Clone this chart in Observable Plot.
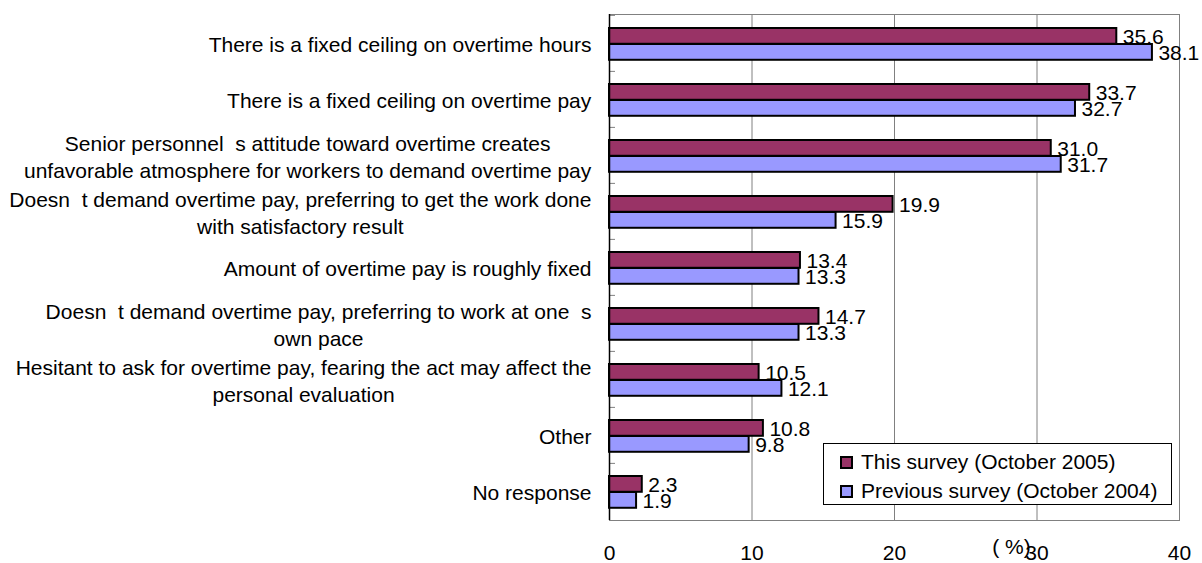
<!DOCTYPE html>
<html><head><meta charset="utf-8">
<script src="https://cdn.jsdelivr.net/npm/d3@7"></script>
<script src="https://cdn.jsdelivr.net/npm/@observablehq/plot@0.6"></script>
<style>
body{margin:0;background:#fff;font-family:"Liberation Sans",Arial,sans-serif;}
#wrap{position:relative;width:1202px;height:563px;overflow:hidden;}
#legend{position:absolute;left:823px;top:443px;width:349px;height:62px;box-sizing:border-box;border:1px solid #000;background:#fff;font-size:21px;color:#000;}
.item{position:absolute;left:16px;height:24px;line-height:24px;display:flex;align-items:center;white-space:nowrap;}
.sw{width:13px;height:13px;box-sizing:border-box;border:2px solid #000;margin-right:8px;}
</style></head><body><div id="wrap"></div>
<script>
const categories = [
  "There is a fixed ceiling on overtime hours",
  "There is a fixed ceiling on overtime pay",
  "Senior personnel  s attitude toward overtime creates\nunfavorable atmosphere for workers to demand overtime pay",
  "Doesn  t demand overtime pay, preferring to get the work done\nwith satisfactory result",
  "Amount of overtime pay is roughly fixed",
  "Doesn  t demand overtime pay, preferring to work at one  s\nown pace",
  "Hesitant to ask for overtime pay, fearing the act may affect the\npersonal evaluation",
  "Other",
  "No response"
];
const thisSurvey = [35.6, 33.7, 31.0, 19.9, 13.4, 14.7, 10.5, 10.8, 2.3];
const prevSurvey = [38.1, 32.7, 31.7, 15.9, 13.3, 13.3, 12.1, 9.8, 1.9];
const seriesNames = ["This survey (October 2005)", "Previous survey (October 2004)"];
const seriesColors = ["#993366", "#9999FF"];
const xTicks = [0, 10, 20, 30, 40];
const unitLabel = "( %)";

const W = 1202, H = 563, mT = 14, mB = 43, mL = 609, mR = 23;
const step = (H - mT - mB) / categories.length;
const barH = 16, topPad = 13;
const series = [thisSurvey, prevSurvey];
const rows = categories.flatMap((c, i) => series.map((vals, s) => ({cat: c, series: s, value: vals[i]})));

const barMarks = [0, 1].map(s => Plot.barX(rows.filter(r => r.series === s), {
  x: "value", y: "cat", fill: seriesColors[s], stroke: "#000", strokeWidth: 2,
  insetTop: topPad + s * barH, insetBottom: step - topPad - (s + 1) * barH
}));
const valueMarks = [0, 1].map(s => Plot.text(rows.filter(r => r.series === s), {
  x: "value", y: "cat", text: d => d.value.toFixed(1), textAnchor: "start",
  dx: 6, dy: topPad + s * barH + barH / 2 - step / 2 + 1, fill: "#000"
}));

const plot = Plot.plot({
  width: W, height: H, marginTop: mT, marginBottom: mB, marginLeft: mL, marginRight: mR,
  style: {fontFamily: "'Liberation Sans', Arial, sans-serif", fontSize: "21px", background: "#fff", color: "#000", overflow: "visible"},
  x: {domain: [0, 40], ticks: xTicks, tickSize: 0, tickPadding: 25, tickFormat: d => String(d), label: null},
  y: {domain: categories, padding: 0, axis: null},
  marks: [
    Plot.ruleX(xTicks.slice(1, -1), {stroke: "#808080", strokeWidth: 1}),
    Plot.frame({stroke: "#808080"}),
    Plot.ruleY(categories, {y: d => d, x1: 0, x2: 0, insetRight: -6, dy: -step / 2, stroke: "#808080"}),
    ...barMarks,
    Plot.ruleX([0], {stroke: "#000", strokeWidth: 1.5}),
    ...valueMarks,
    Plot.text(categories, {y: d => d, frameAnchor: "left", textAnchor: "end", dx: -18, text: d => d, lineHeight: 1.28, fill: "#000"}),
    Plot.text([unitLabel], {frameAnchor: "bottom-right", dx: -168, dy: 33, text: d => d, textAnchor: "middle", fill: "#000"})
  ]
});
const wrap = document.getElementById("wrap");
wrap.appendChild(plot);

// center-align multi-line category labels (right edge kept), keep double spaces
const labelSet = new Set(categories.map(c => c.replace(/\n/g, "")));
plot.querySelectorAll("text").forEach(t => {
  if (!labelSet.has(t.textContent)) return;
  t.style.whiteSpace = "pre";
  t.setAttribute("xml:space", "preserve");
  const w = t.getBBox().width;
  t.setAttribute("text-anchor", "middle");
  t.querySelectorAll("tspan").forEach(ts => ts.setAttribute("text-anchor", "middle"));
  const tr = t.getAttribute("transform") || "";
  t.setAttribute("transform", tr + ` translate(${-w / 2},0)`);
});

const legend = document.createElement("div");
legend.id = "legend";
seriesNames.forEach((name, s) => {
  const item = document.createElement("div");
  item.className = "item";
  item.style.top = (6 + s * 29) + "px";
  const sw = document.createElement("span");
  sw.className = "sw";
  sw.style.background = seriesColors[s];
  item.appendChild(sw);
  item.appendChild(document.createTextNode(name));
  legend.appendChild(item);
});
wrap.appendChild(legend);
</script>
</body></html>
